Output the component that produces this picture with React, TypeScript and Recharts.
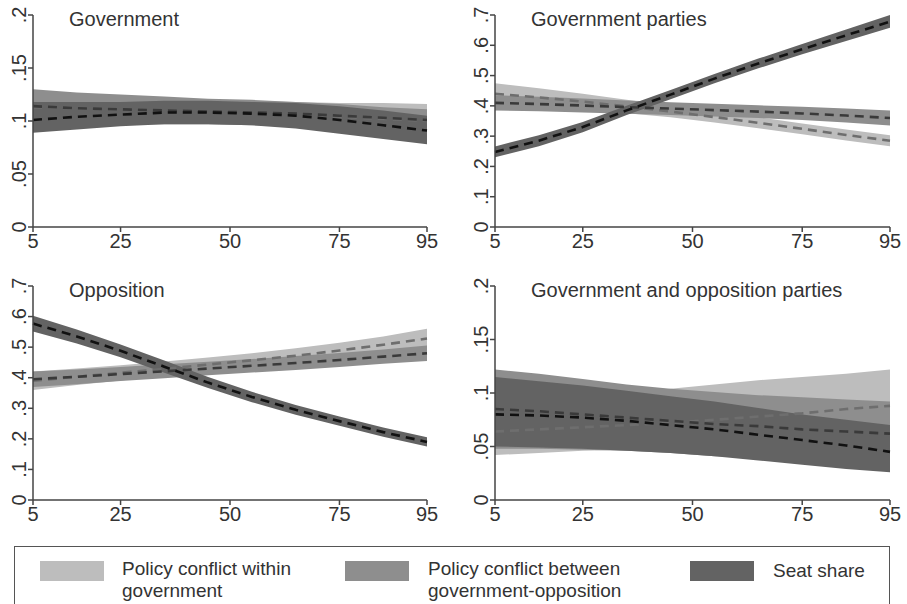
import React from 'react';
import { ComposedChart, Area, Line, XAxis, YAxis } from 'recharts';

const xValues = [5, 15, 25, 35, 45, 55, 65, 75, 85, 95];
const xTicks = [5, 25, 50, 75, 95];

// Government
const govWithinMean = [0.113, 0.112, 0.111, 0.110, 0.109, 0.108, 0.106, 0.104, 0.102, 0.100];
const govWithinHi = [0.125, 0.123, 0.122, 0.121, 0.120, 0.119, 0.118, 0.117, 0.117, 0.116];
const govWithinLo = [0.101, 0.101, 0.100, 0.099, 0.098, 0.097, 0.094, 0.091, 0.087, 0.084];
const govBetweenMean = [0.114, 0.112, 0.111, 0.110, 0.109, 0.108, 0.107, 0.105, 0.103, 0.101];
const govBetweenHi = [0.130, 0.127, 0.125, 0.123, 0.121, 0.120, 0.118, 0.116, 0.113, 0.111];
const govBetweenLo = [0.098, 0.097, 0.097, 0.097, 0.097, 0.096, 0.096, 0.094, 0.093, 0.091];
const govSeatMean = [0.101, 0.104, 0.106, 0.108, 0.108, 0.107, 0.105, 0.101, 0.096, 0.091];
const govSeatHi = [0.118, 0.118, 0.118, 0.119, 0.119, 0.118, 0.117, 0.114, 0.110, 0.105];
const govSeatLo = [0.089, 0.092, 0.095, 0.097, 0.097, 0.096, 0.093, 0.088, 0.083, 0.078];

// Government parties
const gpWithinMean = [0.440, 0.428, 0.414, 0.398, 0.381, 0.363, 0.344, 0.324, 0.304, 0.285];
const gpWithinHi = [0.475, 0.458, 0.440, 0.420, 0.400, 0.381, 0.362, 0.342, 0.322, 0.303];
const gpWithinLo = [0.405, 0.398, 0.388, 0.376, 0.362, 0.345, 0.326, 0.306, 0.286, 0.267];
const gpBetweenMean = [0.410, 0.406, 0.401, 0.396, 0.391, 0.386, 0.381, 0.375, 0.368, 0.360];
const gpBetweenHi = [0.435, 0.430, 0.424, 0.418, 0.412, 0.407, 0.402, 0.397, 0.391, 0.385];
const gpBetweenLo = [0.385, 0.382, 0.378, 0.374, 0.370, 0.365, 0.360, 0.353, 0.345, 0.335];
const gpSeatMean = [0.248, 0.285, 0.330, 0.385, 0.437, 0.490, 0.540, 0.587, 0.633, 0.678];
const gpSeatHi = [0.266, 0.303, 0.347, 0.400, 0.452, 0.505, 0.556, 0.604, 0.652, 0.700];
const gpSeatLo = [0.230, 0.267, 0.313, 0.370, 0.422, 0.475, 0.524, 0.570, 0.614, 0.658];

// Opposition
const opWithinMean = [0.390, 0.403, 0.416, 0.429, 0.443, 0.457, 0.472, 0.489, 0.508, 0.528];
const opWithinHi = [0.420, 0.430, 0.441, 0.453, 0.466, 0.480, 0.496, 0.514, 0.535, 0.560];
const opWithinLo = [0.360, 0.376, 0.391, 0.405, 0.420, 0.434, 0.448, 0.464, 0.481, 0.496];
const opBetweenMean = [0.395, 0.403, 0.412, 0.421, 0.430, 0.439, 0.448, 0.458, 0.469, 0.480];
const opBetweenHi = [0.420, 0.427, 0.435, 0.444, 0.452, 0.461, 0.471, 0.481, 0.492, 0.505];
const opBetweenLo = [0.370, 0.379, 0.389, 0.398, 0.408, 0.417, 0.425, 0.435, 0.446, 0.455];
const opSeatMean = [0.577, 0.535, 0.488, 0.436, 0.384, 0.337, 0.295, 0.258, 0.222, 0.190];
const opSeatHi = [0.603, 0.558, 0.509, 0.456, 0.402, 0.354, 0.311, 0.273, 0.237, 0.205];
const opSeatLo = [0.551, 0.512, 0.467, 0.416, 0.366, 0.320, 0.279, 0.243, 0.207, 0.175];

// Government and opposition parties
const goWithinMean = [0.064, 0.066, 0.068, 0.070, 0.072, 0.075, 0.078, 0.081, 0.085, 0.088];
const goWithinHi = [0.086, 0.091, 0.096, 0.100, 0.104, 0.108, 0.112, 0.115, 0.118, 0.122];
const goWithinLo = [0.042, 0.044, 0.046, 0.047, 0.048, 0.049, 0.050, 0.051, 0.052, 0.054];
const goBetweenMean = [0.085, 0.083, 0.080, 0.077, 0.074, 0.071, 0.069, 0.066, 0.064, 0.062];
const goBetweenHi = [0.122, 0.118, 0.113, 0.108, 0.104, 0.101, 0.098, 0.096, 0.094, 0.092];
const goBetweenLo = [0.048, 0.048, 0.047, 0.046, 0.044, 0.041, 0.040, 0.036, 0.034, 0.032];
const goSeatMean = [0.080, 0.079, 0.077, 0.074, 0.070, 0.066, 0.061, 0.056, 0.051, 0.045];
const goSeatHi = [0.115, 0.111, 0.107, 0.102, 0.097, 0.092, 0.086, 0.080, 0.075, 0.070];
const goSeatLo = [0.050, 0.049, 0.048, 0.046, 0.044, 0.041, 0.037, 0.033, 0.029, 0.026];

const smallTicks = [0, 0.05, 0.1, 0.15, 0.2];
const bigTicks = [0, 0.1, 0.2, 0.3, 0.4, 0.5, 0.6, 0.7];

const LIGHT = '#bdbdbd';
const MEDIUM = '#8e8e8e';
const DARK = '#636363';
const FONT = '"Liberation Sans", Arial, sans-serif';

function rows(w: number[][], b: number[][], s: number[][]) {
  return xValues.map((x, i) => ({
    x,
    withinBand: [w[1][i], w[2][i]],
    withinMean: w[0][i],
    betweenBand: [b[1][i], b[2][i]],
    betweenMean: b[0][i],
    seatBand: [s[1][i], s[2][i]],
    seatMean: s[0][i],
  }));
}

const fmt = (v: number) => (v === 0 ? '0' : String(v).replace(/^0/, ''));

function YTick(props: any) {
  const { x, y, payload } = props;
  return (
    <text
      x={x}
      y={y}
      transform={`rotate(-90 ${x} ${y})`}
      textAnchor="middle"
      fontSize={20}
      fontFamily={FONT}
      fill="#333"
    >
      {fmt(payload.value)}
    </text>
  );
}

interface PanelProps {
  title: string;
  data: any[];
  yMax: number;
  yTicks: number[];
  left: number;
  top: number;
  width: number;
  height: number;
  yWidth: number;
  right: number;
  marginTop: number;
  xHeight: number;
}

function Panel(p: PanelProps) {
  return (
    <div style={{ position: 'absolute', left: p.left, top: p.top }}>
      <ComposedChart
        width={p.width}
        height={p.height}
        data={p.data}
        margin={{ top: p.marginTop, right: p.right, bottom: 0, left: 0 }}
      >
        <XAxis
          dataKey="x"
          type="number"
          domain={[5, 95]}
          ticks={xTicks}
          height={p.xHeight}
          tickSize={5}
          stroke="#444"
          strokeWidth={1.5}
          tick={{ fontSize: 20, fontFamily: FONT, fill: '#333' }}
        />
        <YAxis
          type="number"
          domain={[0, p.yMax]}
          ticks={p.yTicks}
          width={p.yWidth}
          tickSize={5}
          stroke="#444"
          strokeWidth={1.5}
          tick={<YTick />}
        />
        <Area dataKey="withinBand" type="linear" fill={LIGHT} fillOpacity={1} stroke="none" isAnimationActive={false} />
        <Area dataKey="betweenBand" type="linear" fill={MEDIUM} fillOpacity={1} stroke="none" isAnimationActive={false} />
        <Area dataKey="seatBand" type="linear" fill={DARK} fillOpacity={1} stroke="none" isAnimationActive={false} />
        <Line dataKey="withinMean" type="linear" stroke="#6e6e6e" strokeWidth={2.6} strokeDasharray="9 6" dot={false} isAnimationActive={false} />
        <Line dataKey="betweenMean" type="linear" stroke="#3a3a3a" strokeWidth={2.6} strokeDasharray="9 6" dot={false} isAnimationActive={false} />
        <Line dataKey="seatMean" type="linear" stroke="#111" strokeWidth={2.6} strokeDasharray="9 6" dot={false} isAnimationActive={false} />
      </ComposedChart>
      <div
        style={{
          position: 'absolute',
          left: p.yWidth + 36,
          top: p.marginTop - 7,
          fontSize: 20,
          fontFamily: FONT,
          color: '#333',
          whiteSpace: 'nowrap',
        }}
      >
        {p.title}
      </div>
    </div>
  );
}

const govData = rows([govWithinMean, govWithinLo, govWithinHi], [govBetweenMean, govBetweenLo, govBetweenHi], [govSeatMean, govSeatLo, govSeatHi]);
const gpData = rows([gpWithinMean, gpWithinLo, gpWithinHi], [gpBetweenMean, gpBetweenLo, gpBetweenHi], [gpSeatMean, gpSeatLo, gpSeatHi]);
const opData = rows([opWithinMean, opWithinLo, opWithinHi], [opBetweenMean, opBetweenLo, opBetweenHi], [opSeatMean, opSeatLo, opSeatHi]);
const goData = rows([goWithinMean, goWithinLo, goWithinHi], [goBetweenMean, goBetweenLo, goBetweenHi], [goSeatMean, goSeatLo, goSeatHi]);

const legendItems = [
  { color: LIGHT, label: ['Policy conflict within', 'government'], swatch: 40, text: 122 },
  { color: MEDIUM, label: ['Policy conflict between', 'government-opposition'], swatch: 345, text: 428 },
  { color: DARK, label: ['Seat share'], swatch: 690, text: 773 },
];

export default function App() {
  return (
    <div style={{ position: 'absolute', left: 0, top: 0, width: 907, height: 604, background: '#fff', overflow: 'hidden' }}>
      <Panel title="Government" data={govData} yMax={0.2} yTicks={smallTicks}
        left={0} top={0} width={453} height={265} yWidth={33} right={26} marginTop={15} xHeight={38} />
      <Panel title="Government parties" data={gpData} yMax={0.7} yTicks={bigTicks}
        left={453} top={0} width={454} height={265} yWidth={42} right={17} marginTop={15} xHeight={38} />
      <Panel title="Opposition" data={opData} yMax={0.7} yTicks={bigTicks}
        left={0} top={270} width={453} height={265} yWidth={33} right={26} marginTop={16} xHeight={35} />
      <Panel title="Government and opposition parties" data={goData} yMax={0.2} yTicks={smallTicks}
        left={453} top={270} width={454} height={265} yWidth={42} right={17} marginTop={16} xHeight={35} />
      <div
        style={{
          position: 'absolute',
          left: 14,
          top: 546,
          width: 876,
          height: 70,
          border: '1.5px solid #555',
          boxSizing: 'border-box',
        }}
      />
      {legendItems.map((it) => (
        <React.Fragment key={it.label[0]}>
          <div style={{ position: 'absolute', left: it.swatch, top: 561, width: 64, height: 20, background: it.color }} />
          <div
            style={{
              position: 'absolute',
              left: it.text,
              top: it.label.length > 1 ? 558 : 560,
              fontSize: 19,
              lineHeight: '22px',
              fontFamily: FONT,
              color: '#333',
              whiteSpace: 'nowrap',
            }}
          >
            {it.label.map((l) => (
              <div key={l}>{l}</div>
            ))}
          </div>
        </React.Fragment>
      ))}
    </div>
  );
}
